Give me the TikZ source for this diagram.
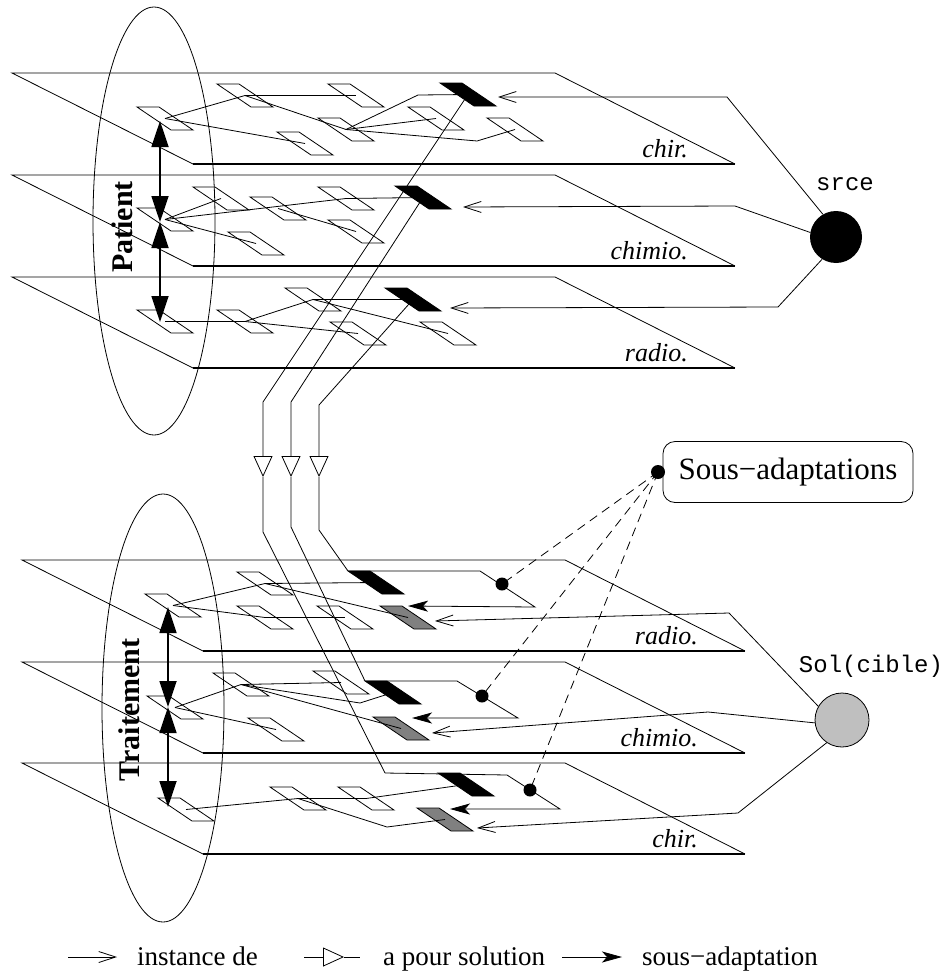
\documentclass[tikz,border=0pt]{standalone}
\usepackage{fontspec}
\setmainfont{Liberation Serif}
\setmonofont{Liberation Mono}
\usetikzlibrary{arrows.meta}
\usetikzlibrary{positioning}

\tikzset{
  trait/.style={line width=0.8pt},
  bord/.style={line width=1.7pt},
  bloc/.style={line width=0.8pt, line join=miter},
  inst/.style={line width=0.8pt, -{Straight Barb[length=17pt,width=11pt]}},
  asol/.style={line width=0.8pt, -{Triangle[open,length=21pt,width=19pt]}},
  sad/.style={line width=0.8pt, -{Stealth[length=20pt,width=11pt,inset=5pt]}},
  dbl/.style={line width=1.8pt, {Triangle[length=26pt,width=17pt]}-{Triangle[length=26pt,width=17pt]}},
  pointille/.style={line width=0.8pt, dash pattern=on 9pt off 6pt},
  etiq/.style={font=\fontsize{26}{28}\selectfont\itshape, anchor=base east, inner sep=0pt},
  titre/.style={font=\fontsize{30}{32}\selectfont\bfseries, rotate=90},
  code/.style={font=\fontsize{24}{26}\selectfont\ttfamily, anchor=base, inner sep=0pt},
  legende/.style={font=\fontsize{27}{29}\selectfont, anchor=base west, inner sep=0pt},
}

% plan: nom, x, y, etiquette
\newcommand\plan[4]{%
  \draw[trait] (#2+181,#3+91) -- (#2,#3) -- (#2+543,#3) -- (#2+723,#3+91);
  \draw[bord] (#2+181,#3+91) -- (#2+723,#3+91);
  \node[etiq] (#1) at (#2+676,#3+84) {#4};}

% bloc: [remplissage] nom, x, y
\newcommand\bloc[4][none]{%
  \draw[bloc,fill=#1] (#3,#4) -- ++(22,0) -- ++(34,23) -- ++(-22,0) -- cycle;
  \coordinate (#2) at (#3+28,#4+11.5);
  \coordinate (#2-nw) at (#3,#4);}

\begin{document}
\begin{tikzpicture}[x=1pt,y=-1pt]
\useasboundingbox (0,0) rectangle (946,974);

% Plans
\plan{p1}{12}{73}{chir.}
\plan{p2}{12}{175}{chimio.}
\plan{p3}{12}{277}{radio.}
\plan{t1}{22}{560}{radio.}
\plan{t2}{22}{662}{chimio.}
\plan{t3}{22}{763}{chir.}

% Ellipses
\draw[trait] (154,221) ellipse [x radius=61, y radius=214];
\draw[trait] (163,708) ellipse [x radius=61, y radius=214];
\node[titre] (patient) at (122,227) {Patient};
\node[titre] (traitement) at (129,710) {Traitement};

% Blocs source
\bloc{A1}{137}{107} \bloc{A2}{217}{84} \bloc{A3}{328}{84} \bloc{A4}{318}{118}
\bloc{A5}{277}{132} \bloc{A6}{408}{107} \bloc{A7}{487}{118} \bloc[black]{B1}{440}{83}
\bloc{C1}{137}{208} \bloc{C2}{193}{187} \bloc{C3}{250}{197} \bloc{C4}{318}{187}
\bloc{C5}{328}{220} \bloc{C6}{228}{232} \bloc[black]{B2}{395}{186}
\bloc{D1}{137}{310} \bloc{D2}{217}{310} \bloc{D3}{285}{288} \bloc{D4}{330}{322}
\bloc{D5}{420}{322} \bloc[black]{B3}{385}{288}

% Blocs cible
\bloc{E1}{145}{594} \bloc{E2}{237}{572} \bloc{E3}{237}{606} \bloc{E4}{317}{606}
\bloc[black]{F1}{348}{571} \bloc[gray]{G1}{380}{606}
\bloc{H1}{147}{696} \bloc{H2}{213}{673} \bloc{H3}{313}{671} \bloc{H4}{248}{718}
\bloc[black]{K2}{365}{681} \bloc[gray]{L2}{373}{717}
\bloc{J1}{158}{798} \bloc{J2}{270}{787} \bloc{J3}{338}{787}
\bloc[black]{K3}{438}{773} \bloc[gray]{L3}{417}{808}

% Liens dans les plans
\draw[trait] (A1) -- (A2);
\draw[trait] (A1) -- (A5);
\draw[trait] (A2) -- (A3);
\draw[trait] (A2) -- (A4);
\draw[trait] (A4) -- (418,95) -- (B1);
\draw[trait] (A4) -- (A6);
\draw[trait] (A4) -- (477,141) -- (A7);
\draw[trait] (C1) -- (C2);
\draw[trait] (C1) -- (C4);
\draw[trait] (C1) -- (C6);
\draw[trait] (C3) -- (C5);
\draw[trait] (C4) -- (B2);
\draw[trait] (D1) -- (D2);
\draw[trait] (D2) -- (D3);
\draw[trait] (D2) -- (D4);
\draw[trait] (D3) -- (B3);
\draw[trait] (D3) -- (D5);
\draw[trait] (E1) -- (E2);
\draw[trait] (E1) -- (E3);
\draw[trait] (E2) -- (F1);
\draw[trait] (E2) -- (G1);
\draw[trait] (E3) -- (E4);
\draw[trait] (H1) -- (H2);
\draw[trait] (H1) -- (H4);
\draw[trait] (H2) -- (H3);
\draw[trait] (H2) -- (360,703) -- (K2);
\draw[trait] (H2) -- (L2);
\draw[trait] (J1) -- (J2);
\draw[trait] (J2) -- (J3);
\draw[trait] (J3) -- (K3);
\draw[trait] (J2) -- (387,827) -- (L3);

% Doubles fleches
\coordinate (a1) at (160,121);
\coordinate (a2) at (160,222);
\coordinate (a3) at (160,322);
\coordinate (b1) at (168,607);
\coordinate (b2) at (168,707);
\coordinate (b3) at (168,807);
\draw[dbl] (a1) -- (a2);
\draw[dbl] (a2) -- (a3);
\draw[dbl] (b1) -- (b2);
\draw[dbl] (b2) -- (b3);

% Cas source et cible
\node[circle, fill, minimum size=52pt, inner sep=0pt] (srce) at (836,237) {};
\node[code] (lsrce) at (845,190) {srce};
\node[circle, draw, trait, fill=gray!50, minimum size=54pt, inner sep=0pt] (sol) at (842,720) {};
\node[code] (lsol) at (871,672) {Sol(cible)};

\coordinate (s1) at (498,97);
\coordinate (s2) at (463,207);
\coordinate (s3) at (450,308);
\draw[inst] (srce.120) -- (727,97) -- (s1);
\draw[inst] (srce.170) -- (735,206) -- (s2);
\draw[inst] (srce.238) -- (778,307) -- (s3);

\coordinate (c1) at (435,621);
\coordinate (c2) at (432,733);
\coordinate (c3) at (477,828);
\draw[inst] (sol.150) -- (729,613) -- (c1);
\draw[inst] (sol.186) -- (708,712) -- (c2);
\draw[inst] (sol.236) -- (738,813) -- (c3);

% a pour solution
\coordinate (k3in) at (385,773);
\draw[asol] (B1) -- (263,402) -- (263,477);
\draw[trait] (263,477) -- (263,532) -- (k3in);
\draw[asol] (B2) -- (291,402) -- (291,477);
\draw[trait] (291,477) -- (291,527) -- (K2-nw);
\draw[asol] (B3) -- (319,405) -- (319,477);
\draw[trait] (319,477) -- (319,530) -- (F1-nw);

% sous-adaptations
\draw[sad] (F1-nw) -- (480,571) -- (535,607) -- (408,606);
\draw[sad] (K2-nw) -- (457,681) -- (518,718) -- (412,718);
\draw[sad] (k3in) -- (507,775) -- (560,809) -- (450,809);
\coordinate (d1) at (502,584);
\coordinate (d2) at (482,696);
\coordinate (d3) at (530,790);
\fill (d1) circle (6.5);
\fill (d2) circle (6.5);
\fill (d3) circle (6.5);

\node[draw, trait, rounded corners=12pt, minimum width=250pt, minimum height=61pt,
      font=\fontsize{31}{33}\selectfont] (sousad) at (788,472) {Sous−adaptations};
\coordinate (dsad) at (658,472);
\fill (dsad) circle (7);
\draw[pointille] (dsad) -- (d1);
\draw[pointille] (dsad) -- (d2);
\draw[pointille] (dsad) -- (d3);

% Legende
\coordinate (l1a) at (68,957);
\coordinate (l1b) at (117,957);
\draw[inst] (l1a) -- (l1b);
\node[legende] (leg1) at (137,965) {instance de};
\coordinate (l2a) at (304,957);
\coordinate (l2b) at (344,957);
\coordinate (l2c) at (360,957);
\draw[asol] (l2a) -- (l2b);
\draw[trait] (l2b) -- (l2c);
\node[legende] (leg2) at (383,965) {a pour solution};
\coordinate (l3a) at (562,957);
\coordinate (l3b) at (622,957);
\draw[sad] (l3a) -- (l3b);
\node[legende] (leg3) at (642,965) {sous−adaptation};

\end{tikzpicture}
\end{document}
